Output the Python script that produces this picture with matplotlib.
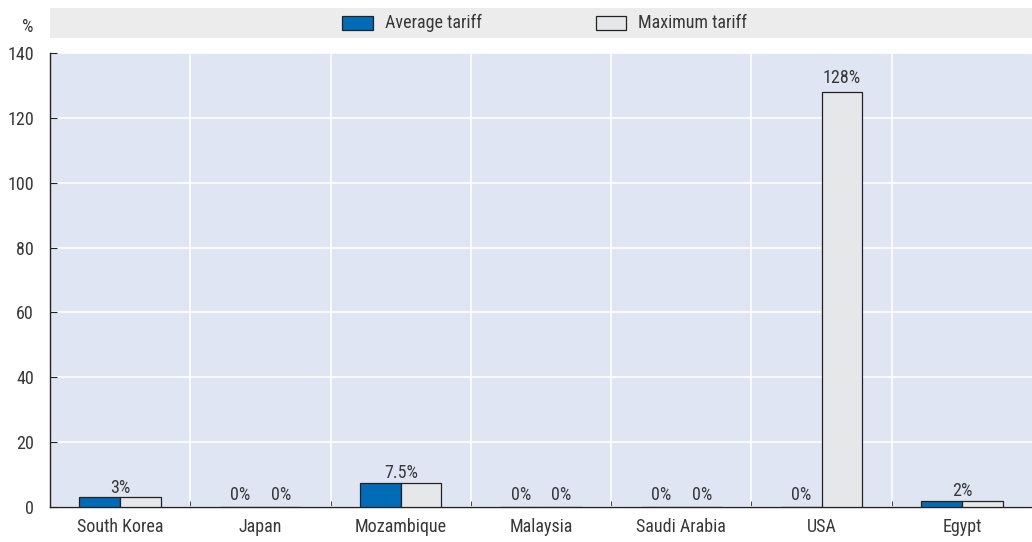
import matplotlib
matplotlib.use("Agg")
import matplotlib.pyplot as plt
from matplotlib.patches import Rectangle
import numpy as np

plt.rcParams['font.family'] = ['Roboto Condensed', 'DejaVu Sans']

categories = ["South Korea", "Japan", "Mozambique", "Malaysia", "Saudi Arabia", "USA", "Egypt"]
avg_tariff = [3, 0, 7.5, 0, 0, 0, 2]
max_tariff = [3, 0, 7.5, 0, 0, 128, 2]
avg_labels = [None, "0%", None, "0%", "0%", "0%", None]
max_labels = [None, "0%", None, "0%", "0%", "128%", None]
group_labels = ["3%", None, "7.5%", None, None, None, "2%"]
yticks = [0, 20, 40, 60, 80, 100, 120, 140]

blue = "#006bb6"
light = "#e6e7e8"
bg = "#dfe5f3"
txt = "#383838"
fs = 13
fw = "normal"

fig = plt.figure(figsize=(10.32, 5.42), dpi=100)
ax = fig.add_axes([50/1032, 35/542, 982/1032, 454/542])
ax.set_facecolor(bg)
n = len(categories)
x = np.arange(n)
w = 0.29
ax.bar(x - w/2, avg_tariff, w, color=blue, edgecolor="#222222", linewidth=0.9, zorder=3)
ax.bar(x + w/2, max_tariff, w, color=light, edgecolor="#222222", linewidth=0.9, zorder=3)

def lab(xx, yy, s, pts):
    ax.annotate(s, (xx, yy), xytext=(0, pts), textcoords="offset points", ha="center",
                va="baseline", fontsize=fs, color=txt, fontweight=fw, zorder=4)

for i in range(n):
    if group_labels[i]:
        lab(x[i], max(avg_tariff[i], max_tariff[i]), group_labels[i], 3.3)
    if avg_labels[i]:
        lab(x[i] - w/2, avg_tariff[i], avg_labels[i], 5.0)
    if max_labels[i]:
        lab(x[i] + w/2, max_tariff[i], max_labels[i], 5.0 if max_tariff[i] == 0 else 6.5)

ax.set_xlim(-0.5, n - 0.5)
ax.set_ylim(0, 140)
ax.set_yticks(yticks)
ax.set_yticklabels([str(v) for v in yticks], fontsize=fs, color=txt, fontweight=fw)
ax.grid(axis="y", color="white", linewidth=1.2, zorder=1)
for b in np.arange(n - 1) + 0.5:
    ax.axvline(b, color="white", linewidth=1.2, zorder=1)
ax.set_xticks(x)
ax.set_xticklabels(categories, fontsize=fs, color=txt, fontweight=fw)
ax.tick_params(axis="x", length=0, pad=8)
ax.set_xticks(np.arange(n - 1) + 0.5, minor=True)
ax.tick_params(axis="x", which="minor", direction="in", length=4, color="#222222")
ax.tick_params(axis="y", direction="in", length=5, color="#222222", pad=11.5)
for s in ["top", "right"]:
    ax.spines[s].set_visible(False)
for s in ["left", "bottom"]:
    ax.spines[s].set_color("#222222")
    ax.spines[s].set_linewidth(1.0)

# legend band
fig.patches.append(Rectangle((50/1032, 1 - 38/542), 982/1032, 30/542, transform=fig.transFigure,
                             facecolor="#ececec", edgecolor="none", zorder=0))
fig.patches.append(Rectangle((342/1032, 1 - 30/542), 31/1032, 14/542, transform=fig.transFigure,
                             facecolor=blue, edgecolor="#222222", linewidth=0.9, zorder=2))
fig.text(385/1032, 1 - 23/542, "Average tariff", fontsize=fs, color=txt, va="center", ha="left", fontweight=fw)
fig.patches.append(Rectangle((596/1032, 1 - 30/542), 30/1032, 14/542, transform=fig.transFigure,
                             facecolor=light, edgecolor="#222222", linewidth=0.9, zorder=2))
fig.text(638/1032, 1 - 23/542, "Maximum tariff", fontsize=fs, color=txt, va="center", ha="left", fontweight=fw)
fig.text(33/1032, 1 - 27/542, "%", fontsize=fs, color=txt, va="center", ha="right", fontweight=fw)

fig.savefig("out.png", dpi=100)
